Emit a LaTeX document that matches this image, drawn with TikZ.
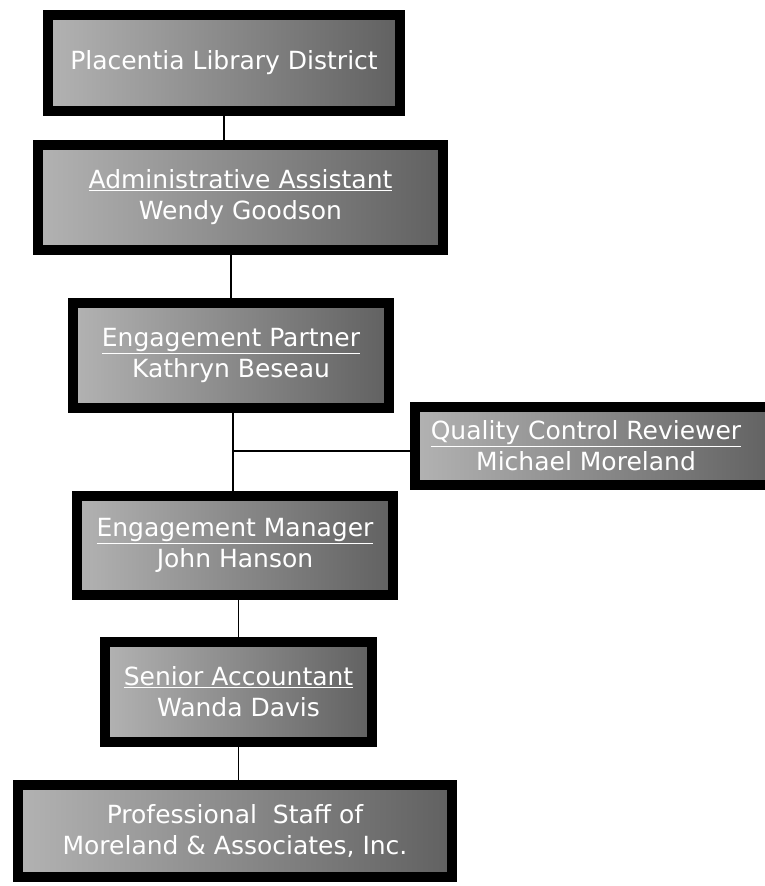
\documentclass[tikz,border=0pt]{standalone}
\usepackage{fontspec}
\setmainfont{DejaVu Sans}
\usetikzlibrary{positioning}

\begin{document}
\begin{tikzpicture}[x=1pt, y=-1pt,
                    graybox/.style={rectangle, draw=black, line width=10pt, left color=black!30, right color=black!62, text=white, align=center, inner sep=0pt, font=\fontsize{25}{31}\selectfont},
                    orgline/.style={draw=black, line width=1.6pt},
                   ]
  \useasboundingbox (0,0) rectangle (765,886);

  %Nodes
  \node[graybox, minimum width=352pt, minimum height=96pt]  (district) at (224,63)                        {Placentia Library District};
  \node[graybox, minimum width=405pt, minimum height=105pt] (admin)    [below=24pt of district, xshift=16.5pt] {\underline{Administrative Assistant}\\Wendy Goodson};
  \node[graybox, minimum width=316pt, minimum height=105pt] (partner)  [below=43pt of admin, xshift=-9.5pt]    {\underline{Engagement Partner}\\Kathryn Beseau};
  \node[graybox, minimum width=362pt, minimum height=78pt]  (qc)       at (596,446)                        {\hspace*{-20pt}\underline{Quality Control Reviewer}\\\hspace*{-20pt}Michael Moreland};
  \node[graybox, minimum width=316pt, minimum height=99pt]  (manager)  [below=78pt of partner, xshift=4pt]    {\underline{Engagement Manager}\\John Hanson};
  \node[graybox, minimum width=267pt, minimum height=100pt] (senior)   [below=37pt of manager, xshift=3.5pt]   {\underline{Senior Accountant}\\Wanda Davis};
  \node[graybox, minimum width=434pt, minimum height=92pt]  (staff)    [below=33pt of senior, xshift=-3.5pt]   {Professional\ \ Staff of\\Moreland \& Associates, Inc.};

  %Lines
  \coordinate (branch) at (233,451);
  \draw[orgline] (district.south) -- (district.south |- admin.north);
  \draw[orgline] (partner.north |- admin.south) -- (partner.north);
  \draw[orgline] (branch |- partner.south) -- (branch |- manager.north);
  \draw[orgline] (branch) -- (branch -| qc.west);
  \draw[orgline] (senior.north |- manager.south) -- (senior.north);
  \draw[orgline] (senior.south) -- (senior.south |- staff.north);
\end{tikzpicture}
\end{document}
